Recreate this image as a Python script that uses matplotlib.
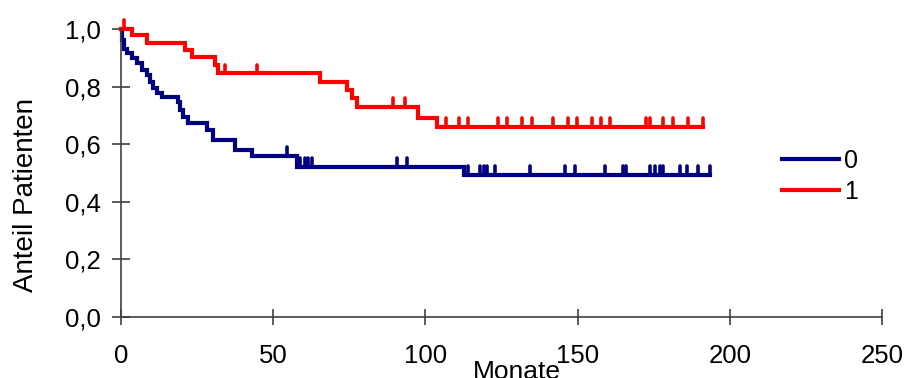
import numpy as np
import matplotlib
matplotlib.use("Agg")
import matplotlib.pyplot as plt
from matplotlib.ticker import FuncFormatter

plt.rcParams['font.family'] = ['Liberation Sans', 'DejaVu Sans']

# group 0: event times (months) and survival after each step
t0 = [0, 0.2, 1.0, 1.9, 3.5, 5.1, 6.8, 8.4, 9.5, 10.6, 11.7, 13.4, 18.8, 19.5,
      20.3, 22.1, 28.1, 30.3, 37.5, 42.9, 57.7, 112.7]
s0 = [1.0, 0.962, 0.930, 0.916, 0.898, 0.881, 0.858, 0.840, 0.817, 0.794, 0.777,
      0.763, 0.745, 0.720, 0.695, 0.672, 0.649, 0.615, 0.580, 0.560, 0.522, 0.493]
end0 = 193.5
cens0 = [54.4, 58.8, 60.4, 61.5, 62.6, 90.6, 93.9, 114.1, 117.9, 119.2, 120.3,
         122.9, 134.4, 145.9, 149.2, 159.0, 165.0, 165.8, 173.8, 175.4, 177.1,
         178.2, 183.6, 185.8, 189.7, 193.5]

# group 1
t1 = [0, 3.5, 8.4, 21.0, 23.2, 30.9, 32.0, 65.4, 74.1, 75.8, 77.4, 97.7, 103.7]
s1 = [1.0, 0.979, 0.950, 0.927, 0.904, 0.875, 0.846, 0.817, 0.788, 0.759,
      0.730, 0.690, 0.661]
end1 = 191.3
cens1 = [1.0, 34.2, 44.6, 89.5, 93.3, 106.8, 111.1, 114.1, 123.9, 126.7, 131.6,
         134.9, 142.0, 146.9, 149.9, 154.6, 157.6, 160.8, 172.5, 173.8, 178.2,
         181.5, 186.4, 191.3]

labels = ["0", "1"]
colors = ["#000080", "#FF0000"]

fig = plt.figure(figsize=(9.07, 3.78), dpi=100)
ax = fig.add_axes([0.1334, 0.1614, 0.8390, 0.7619])

handles = []
for t, s, end, cens, lab, col in [(t0, s0, end0, cens0, labels[0], colors[0]),
                                  (t1, s1, end1, cens1, labels[1], colors[1])]:
    tt = np.array(t + [end])
    ss = np.array(s + [s[-1]])
    h, = ax.step(tt, ss, where='post', color=col, lw=3, label=lab,
                 clip_on=False, solid_joinstyle='miter')
    handles.append(h)
    # censored observations as small upward ticks
    idx = np.searchsorted(t, cens, side='right') - 1
    lev = np.array(s)[idx]
    ax.vlines(cens, lev, lev + 0.03, color=col, lw=2.6, capstyle='round',
              clip_on=False)

ax.set_xlim(0, 250)
ax.set_ylim(0, 1.0)
ax.set_xticks([0, 50, 100, 150, 200, 250])
ax.set_yticks([0, 0.2, 0.4, 0.6, 0.8, 1.0])
ax.yaxis.set_major_formatter(FuncFormatter(lambda v, p: f"{v:.1f}".replace('.', ',')))

for side in ['top', 'right']:
    ax.spines[side].set_visible(False)
for side in ['left', 'bottom']:
    ax.spines[side].set_color('#404040')
    ax.spines[side].set_linewidth(1.2)

ax.tick_params(axis='both', direction='inout', color='#404040', width=1.2,
               labelsize=18.5)
ax.tick_params(axis='x', length=11, pad=14)
ax.tick_params(axis='y', length=13, pad=8)

ax.set_xlabel("Monate", fontsize=19)
ax.xaxis.set_label_coords(0.52, -0.15)
ax.set_ylabel("Anteil Patienten", fontsize=20)
ax.yaxis.set_label_coords(-0.108, 0.424)

ax.legend(handles=handles, loc='upper left', bbox_to_anchor=(0.868, 0.585),
          frameon=False, fontsize=18, handlelength=2.3, handletextpad=0.2,
          labelspacing=0.3, borderpad=0, borderaxespad=0)

fig.savefig("out.png", dpi=100)
